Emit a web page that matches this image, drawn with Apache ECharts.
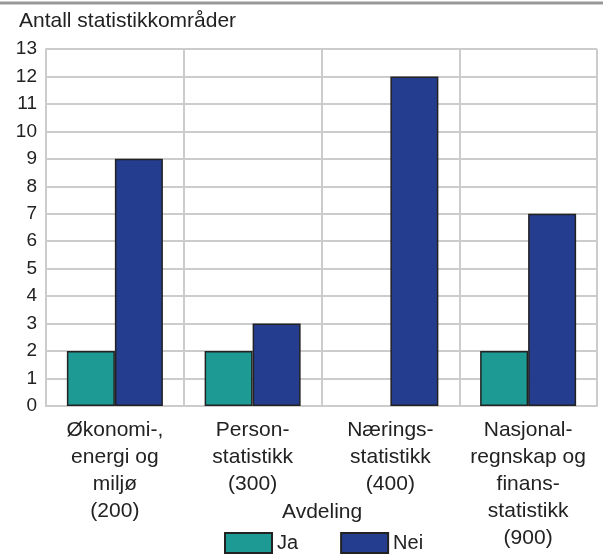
<!DOCTYPE html>
<html>
<head>
<meta charset="utf-8">
<script src="https://cdn.jsdelivr.net/npm/echarts@6/dist/echarts.min.js"></script>
<style>
  html, body { margin: 0; padding: 0; background: #fff; }
  #chart { width: 603px; height: 557px; }
</style>
</head>
<body>
<div id="chart"></div>
<script>
var categories = [
    'Økonomi-,\nenergi og\nmiljø\n(200)',
    'Person-\nstatistikk\n(300)',
    'Nærings-\nstatistikk\n(400)',
    'Nasjonal-\nregnskap og\nfinans-\nstatistikk\n(900)'
];
var jaValues = [2, 2, '-', 2];
var neiValues = [9, 3, 12, 7];
var seriesNames = ['Ja', 'Nei'];

var font = '"Liberation Sans", Arial, sans-serif';
var gridColor = '#cccccc';
var textColor = '#222222';

var chart = echarts.init(document.getElementById('chart'));
chart.setOption({
    animation: false,
    textStyle: { fontFamily: font },
    grid: { left: 46, right: 6, top: 49, bottom: 151 },
    graphic: [
        {
            type: 'line',
            shape: { x1: 0, y1: 3, x2: 603, y2: 3 },
            style: { stroke: '#999999', lineWidth: 3 }
        },
        {
            type: 'text',
            left: 19, top: 11,
            style: { text: 'Antall statistikkområder', fontSize: 21, fill: textColor, fontFamily: font }
        },
        {
            type: 'text',
            left: 282, top: 502,
            style: { text: 'Avdeling', fontSize: 21, fill: textColor, fontFamily: font }
        }
    ],
    legend: {
        left: 224,
        top: 532,
        padding: 0,
        icon: 'rect',
        itemWidth: 47,
        itemHeight: 20,
        itemGap: 42,
        textStyle: { fontSize: 20, color: textColor, fontFamily: font },
        data: seriesNames
    },
    xAxis: {
        type: 'category',
        data: categories,
        axisLine: { lineStyle: { color: gridColor, width: 2 } },
        axisTick: { show: false },
        axisLabel: { interval: 0, fontSize: 21, color: textColor, lineHeight: 27, margin: 11 },
        splitLine: { show: true, interval: 0, lineStyle: { color: gridColor, width: 2 } }
    },
    yAxis: {
        type: 'value',
        min: 0,
        max: 13,
        interval: 1,
        axisLine: { show: true, lineStyle: { color: gridColor, width: 2 } },
        axisTick: { show: false },
        axisLabel: { fontSize: 19, color: textColor, margin: 9, padding: [8, 0, 0, 0] },
        splitLine: { show: true, lineStyle: { color: gridColor, width: 2 } }
    },
    series: [
        {
            name: seriesNames[0],
            type: 'bar',
            data: jaValues,
            barWidth: 48,
            barGap: '0%',
            itemStyle: { color: '#1e9a95', borderColor: '#222', borderWidth: 1.5 }
        },
        {
            name: seriesNames[1],
            type: 'bar',
            data: neiValues,
            barWidth: 48,
            barGap: '0%',
            itemStyle: { color: '#243d8f', borderColor: '#222', borderWidth: 1.5 }
        }
    ]
});
</script>
</body>
</html>
